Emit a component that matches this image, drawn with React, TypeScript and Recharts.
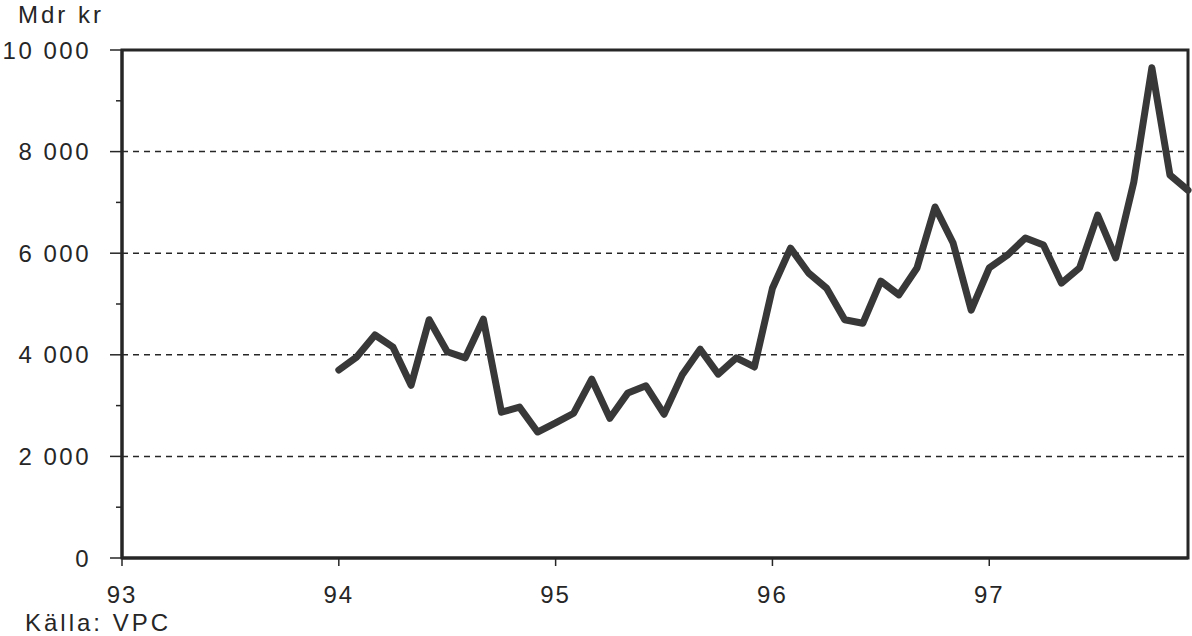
import { LineChart, Line, XAxis, YAxis, ReferenceLine, ReferenceArea } from "recharts";

// monthly values, Jan 94 .. Dec 97 (Mdr kr)
const values = [
  3700, 3960, 4390, 4150, 3400, 4690, 4060, 3940, 4700, 2870, 2970, 2480,
  2660, 2850, 3520, 2750, 3250, 3390, 2830, 3600, 4110, 3620, 3940, 3760,
  5310, 6100, 5610, 5310, 4690, 4620, 5450, 5180, 5710, 6910, 6200, 4880,
  5710, 5960, 6300, 6160, 5410, 5710, 6750, 5910, 7400, 9650, 7540, 7240,
];
const firstMonth = 12; // months counted from Jan 93
const yearTicks = [0, 12, 24, 36, 48];
const yearLabels = ["93", "94", "95", "96", "97"];
const yTicks = [0, 1000, 2000, 3000, 4000, 5000, 6000, 7000, 8000, 9000, 10000];
const gridValues = [2000, 4000, 6000, 8000];

const data = values.map((v, i) => ({ month: firstMonth + i, value: v }));

const INK = "#262626";
const FONT = "'Liberation Sans', Arial, sans-serif";

const fmtThousands = (v: number) => v.toLocaleString("en-US").replace(/,/g, " ");

function YTick({ x, y, payload }: any) {
  const v = payload.value as number;
  const major = v % 2000 === 0;
  return (
    <g>
      <line x1={x - (major ? 12 : 6)} x2={x} y1={y} y2={y} stroke={INK} strokeWidth={1.5} />
      {major && (
        <text x={x - 31} y={y} dy="0.36em" textAnchor="end" fill={INK} fontSize={24} fontFamily={FONT} letterSpacing={2.5}>
          {fmtThousands(v)}
        </text>
      )}
    </g>
  );
}

export default function App() {
  return (
    <div style={{ position: "absolute", left: 0, top: 0, width: 1192, height: 636, background: "#fff" }}>
      <div style={{ position: "absolute", left: 18, top: 1, fontFamily: FONT, fontSize: 24, color: INK, letterSpacing: 3, lineHeight: "28px" }}>
        Mdr kr
      </div>
      <LineChart width={1192} height={636} data={data} margin={{ top: 50, right: 4, bottom: 28, left: 0 }}>
        <XAxis
          dataKey="month"
          type="number"
          domain={[0, 59]}
          ticks={yearTicks}
          tickFormatter={(v: number) => yearLabels[yearTicks.indexOf(v)] ?? ""}
          axisLine={{ stroke: INK, strokeWidth: 3 }}
          tickLine={{ stroke: INK, strokeWidth: 1.5 }}
          tickSize={8}
          tickMargin={20}
          height={50}
          tick={{ fill: INK, fontSize: 24, fontFamily: FONT, letterSpacing: 2 }}
        />
        <YAxis
          type="number"
          domain={[0, 10000]}
          ticks={yTicks}
          width={122}
          tickSize={0}
          tickMargin={0}
          tickLine={false}
          axisLine={{ stroke: INK, strokeWidth: 3 }}
          tick={<YTick />}
          interval={0}
        />
        {gridValues.map((g) => (
          <ReferenceLine key={g} y={g} stroke={INK} strokeWidth={1.5} strokeDasharray="6 5" />
        ))}
        <ReferenceArea x1={0} x2={59} y1={0} y2={10000} fill="none" stroke={INK} strokeWidth={3} />
        <Line
          type="linear"
          dataKey="value"
          stroke="#383838"
          strokeWidth={7}
          strokeLinejoin="round"
          strokeLinecap="round"
          dot={false}
          isAnimationActive={false}
        />
      </LineChart>
      <div style={{ position: "absolute", left: 25, top: 610, fontFamily: FONT, fontSize: 24, color: INK, letterSpacing: 3, lineHeight: "26px" }}>
        Källa: VPC
      </div>
    </div>
  );
}
